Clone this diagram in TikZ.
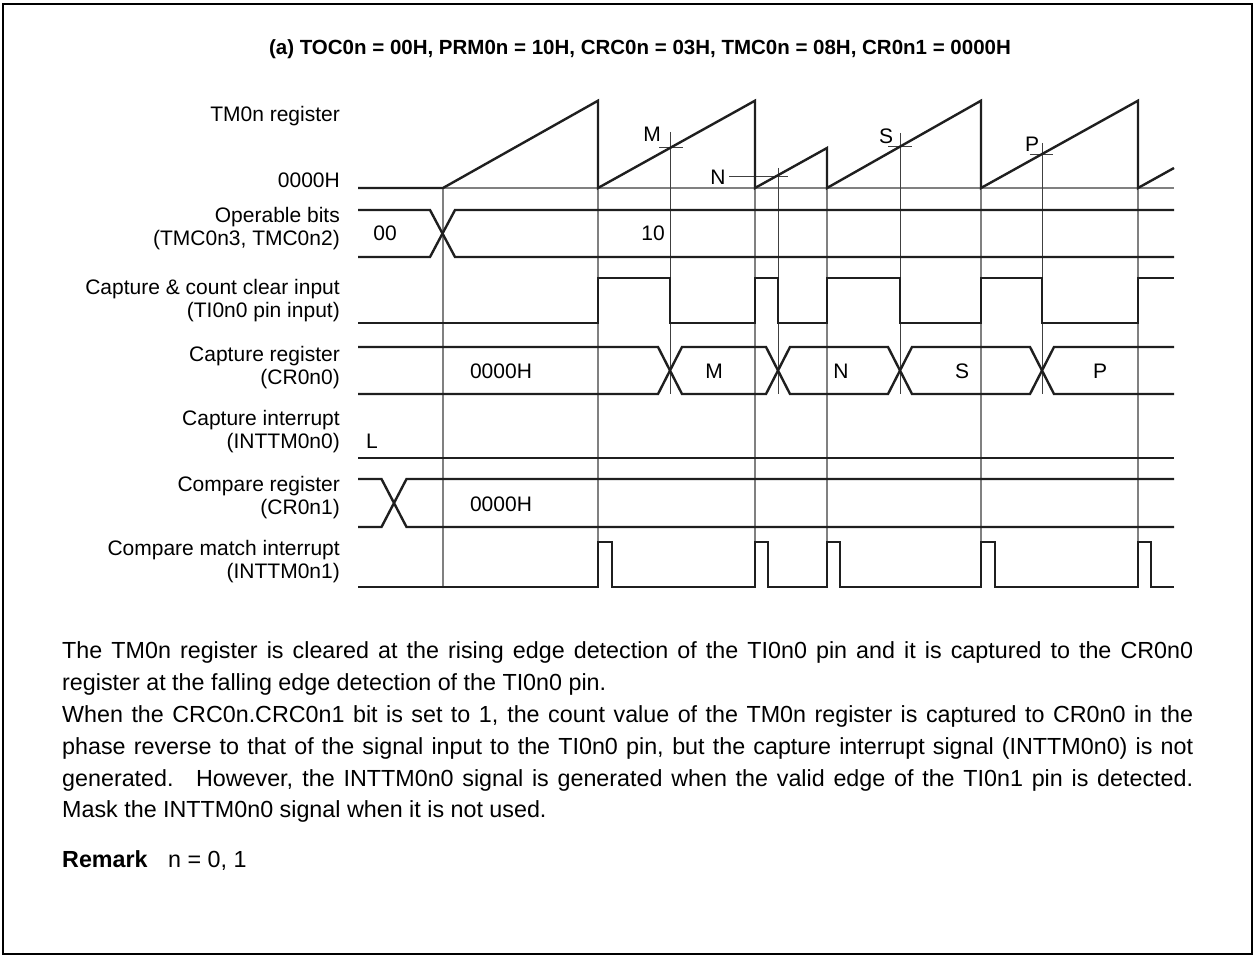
\documentclass[tikz,border=0pt]{standalone}
\usepackage{fontspec}
\setmainfont{Liberation Sans}
\begin{document}
\begin{tikzpicture}[x=1pt,y=-1pt,
  sig/.style={line width=2.4pt, line join=miter, black!88},
  guide/.style={line width=1.1pt, black!50},
  mk/.style={line width=1pt, black!75},
  lbl/.style={anchor=base east, inner sep=0pt, font=\fontsize{21}{25}\selectfont},
  txt/.style={anchor=base west, inner sep=0pt, font=\fontsize{23.3}{28}\selectfont},
  val/.style={anchor=base, inner sep=0pt, font=\fontsize{21}{25}\selectfont}]
\useasboundingbox (0,0) rectangle (1255,957);
\draw[line width=2pt] (3,4) rectangle (1252,954);

% title
\node[anchor=base, inner sep=0pt, font=\fontsize{20.5}{25}\bfseries] (title) at (640,55)
  {(a) TOC0n = 00H, PRM0n = 10H, CRC0n = 03H, TMC0n = 08H, CR0n1 = 0000H};

% left labels
\node[lbl] (l1) at (340,122) {TM0n register};
\node[lbl] (l2) at (340,188) {0000H};
\node[lbl] (l3a) at (340,223) {Operable bits};
\node[lbl] (l3b) at (340,246) {(TMC0n3, TMC0n2)};
\node[lbl] (l4a) at (340,295) {Capture \& count clear input};
\node[lbl] (l4b) at (340,318) {(TI0n0 pin input)};
\node[lbl] (l5a) at (340,361) {Capture register};
\node[lbl] (l5b) at (340,384) {(CR0n0)};
\node[lbl] (l6a) at (340,425) {Capture interrupt};
\node[lbl] (l6b) at (340,448) {(INTTM0n0)};
\node[lbl] (l7a) at (340,491) {Compare register};
\node[lbl] (l7b) at (340,514) {(CR0n1)};
\node[lbl] (l8a) at (340,555) {Compare match interrupt};
\node[lbl] (l8b) at (340,578) {(INTTM0n1)};

% guide lines
\draw[guide] (443,188) -- (1174,188);
\foreach \x in {443,598,755,827,981,1138}
  \draw[guide] (\x,188) -- (\x,587);
% marker lines
\draw[mk] (670,132) -- (670,394);
\draw[mk] (659,147.5) -- (683,147.5);
\draw[mk] (778,168) -- (778,394);
\draw[mk] (729,177) -- (788,177);
\draw[mk] (900,133) -- (900,394);
\draw[mk] (888,147) -- (912,147);
\draw[mk] (1042,143) -- (1042,394);
\draw[mk] (1030,155) -- (1053,155);
\node[val] (mM) at (652,142) {M};
\node[val] (mN) at (718,184.5) {N};
\node[val] (mS) at (886,144) {S};
\node[val] (mP) at (1032,152) {P};

% TM0n counter
\draw[sig] (358,188) -- (443,188) -- (598,100.7) -- (598,188) -- (755,100.7) -- (755,188)
  -- (827,148) -- (827,188) -- (981,100.7) -- (981,188) -- (1138,100.7) -- (1138,188) -- (1174,168);

% operable bits
\draw[sig] (358,210) -- (430,210) -- (455,257) -- (1174,257);
\draw[sig] (358,257) -- (430,257) -- (455,210) -- (1174,210);
\node[val] (v00) at (385,241) {00};
\node[val] (v10) at (653,241) {10};

% capture input
\draw[sig] (358,323) -- (598,323) -- (598,278) -- (670,278) -- (670,323) -- (755,323) -- (755,278)
  -- (778,278) -- (778,323) -- (827,323) -- (827,278) -- (900,278) -- (900,323) -- (981,323)
  -- (981,278) -- (1042,278) -- (1042,323) -- (1138,323) -- (1138,278) -- (1174,278);

% capture register
\draw[sig] (358,347) -- (658,347) -- (682,394) -- (766,394) -- (790,347) -- (888,347) -- (912,394)
  -- (1030,394) -- (1054,347) -- (1174,347);
\draw[sig] (358,394) -- (658,394) -- (682,347) -- (766,347) -- (790,394) -- (888,394) -- (912,347)
  -- (1030,347) -- (1054,394) -- (1174,394);
\node[val] (c0) at (501,378) {0000H};
\node[val] (cM) at (714,378) {M};
\node[val] (cN) at (841,378) {N};
\node[val] (cS) at (962,378) {S};
\node[val] (cP) at (1100,378) {P};

% capture interrupt
\draw[sig] (358,458) -- (1174,458);
\node[val] (iL) at (372,448) {L};

% compare register
\draw[sig] (358,479) -- (381.5,479) -- (406.5,527) -- (1174,527);
\draw[sig] (358,527) -- (381.5,527) -- (406.5,479) -- (1174,479);
\node[val] (r0) at (501,511) {0000H};

% compare match interrupt
\draw[sig] (358,587) -- (598,587) -- (598,542) -- (612,542) -- (612,587) -- (755,587) -- (755,542)
  -- (768,542) -- (768,587) -- (827,587) -- (827,542) -- (840,542) -- (840,587) -- (981,587)
  -- (981,542) -- (995,542) -- (995,587) -- (1138,587) -- (1138,542) -- (1151,542) -- (1151,587) -- (1174,587);

% body text
\node[txt] (b1) at (62,658) {\makebox[1131pt][s]{The TM0n register is cleared at the rising edge detection of the TI0n0 pin and it is captured to the CR0n0}};
\node[txt] (b2) at (62,690) {register at the falling edge detection of the TI0n0 pin.};
\node[txt] (b3) at (62,722) {\makebox[1131pt][s]{When the CRC0n.CRC0n1 bit is set to 1, the count value of the TM0n register is captured to CR0n0 in the}};
\node[txt] (b4) at (62,754) {\makebox[1131pt][s]{phase reverse to that of the signal input to the TI0n0 pin, but the capture interrupt signal (INTTM0n0) is not}};
\node[txt] (b5) at (62,786) {\makebox[1131pt][s]{generated.\hspace{0.3em} However, the INTTM0n0 signal is generated when the valid edge of the TI0n1 pin is detected.}};
\node[txt] (b6) at (62,817) {Mask the INTTM0n0 signal when it is not used.};
\node[txt, font=\fontsize{23.3}{28}\bfseries] (rk) at (62,867) {Remark};
\node[txt] (rk2) at (168,867) {n = 0, 1};
\end{tikzpicture}
\end{document}
